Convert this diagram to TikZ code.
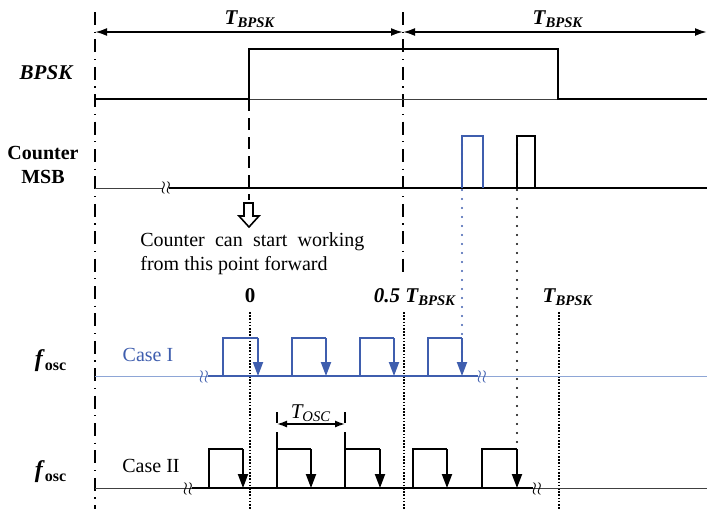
\documentclass[tikz,border=0pt]{standalone}
\usepackage{fontspec}
\setmainfont{Liberation Serif}
\usetikzlibrary{arrows.meta,positioning}
\definecolor{caseblue}{HTML}{3F5EAE}
\definecolor{caselight}{HTML}{8EA6D6}

\begin{document}
\begin{tikzpicture}[
  x=0.5pt, y=-0.5pt,
  font=\fontsize{10}{12}\selectfont,
  lbl/.style={font=\fontsize{10.5}{12}\selectfont\bfseries\itshape, inner sep=1pt},
  sigline/.style={line width=1pt, line join=miter},
  thinbase/.style={line width=0.5pt, draw=black!75},
  dashdot/.style={line width=1.4pt, dash pattern=on 6.5pt off 3.3pt on 0.6pt off 3.3pt},
  densedot/.style={line width=1.2pt, dash pattern=on 0.8pt off 0.8pt},
  sparsedot/.style={line width=1.2pt, line cap=round, dash pattern=on 0pt off 4.5pt},
  falledge/.style={sigline, -{Triangle[length=7pt,width=5pt]}},
  span/.style={line width=1pt, {Latex[length=6pt,width=4pt]}-{Latex[length=6pt,width=4pt]}},
  oscspan/.style={line width=0.7pt, {Latex[length=5pt,width=3.5pt]}-{Latex[length=5pt,width=3.5pt]}},
  wig/.style={inner sep=0pt, font=\fontsize{9}{9}\selectfont},
]
  \useasboundingbox (0,0) rectangle (707,509);

  % time marks
  \coordinate (t0) at (95,32);
  \coordinate (t1) at (403,32);
  \coordinate (t2) at (707,32);
  \draw[dashdot] (95,12) -- (95,509);
  \draw[dashdot] (403,12) -- (403,277);
  \draw[span] (t0) -- (t1);
  \draw[span] (t1) -- (t2);
  \node[lbl] (tb1) at (250,19) {T\textsubscript{BPSK}};
  \node[lbl] (tb2) at (558,19) {T\textsubscript{BPSK}};

  % BPSK
  \node[lbl] (bpsk) at (46,73) {BPSK};
  \draw[thinbase] (249,99) -- (558,99);
  \draw[sigline] (95,99) -- (249,99) -- (249,49) -- (558,49) -- (558,99) -- (707,99);
  \draw[line width=1.1pt, dash pattern=on 6pt off 3.5pt] (249,99) -- (249,200);

  % Counter MSB
  \node[font=\fontsize{10}{12}\selectfont\bfseries, align=center] (msb) at (43,165) {Counter\\MSB};
  \draw[thinbase] (95,188) -- (163,188);
  \draw[sigline] (169,188) -- (707,188);
  \node[wig] (sq0) at (166,188) {$\wr\wr$};
  \draw[sigline, caseblue] (462,188) -- (462,136) -- (483,136) -- (483,188);
  \draw[sigline] (517,188) -- (517,136) -- (535,136) -- (535,188);

  \draw[line width=0.8pt, fill=white] (244,203) -- (253,203) -- (253,216) -- (259,216)
    -- (249,227) -- (239,216) -- (244,216) -- cycle;
  \node[align=justify, text width=112pt, inner sep=0pt, anchor=north west] (note)
    at (140,232) {Counter can start working from this point forward};

  % reference instants
  \node[font=\fontsize{10.5}{12}\selectfont\bfseries] (zero) at (250,296) {0};
  \node[lbl] (half) at (415,297) {0.5 T\textsubscript{BPSK}};
  \node[lbl] (full) at (568,297) {T\textsubscript{BPSK}};
  \foreach \x in {250,404,559}
    \draw[densedot] (\x,312) -- (\x,509);
  \draw[sparsedot, caseblue] (462,136) -- (462,376);
  \draw[sparsedot] (517,136) -- (517,449);

  % Case I
  \node[font=\fontsize{12}{14}\selectfont] (f1) at (51,361) {\textbf{\textit{f}\textsubscript{osc}}};
  \node[text=caseblue] (c1) at (148,355) {Case I};
  \draw[thinbase, caselight] (95,376) -- (707,376);
  \draw[sigline, caseblue] (208,376) -- (478,376);
  \node[wig, text=caseblue] (sq1) at (204,377) {$\wr\wr$};
  \node[wig, text=caseblue] (sq2) at (482,377) {$\wr\wr$};
  \foreach \r/\f in {223/258, 292/326, 360/394, 428/462}{
    \draw[sigline, caseblue] (\r,376) -- (\r,338) -- (\f,338);
    \draw[falledge, caseblue] (\f,338) -- (\f,376);
  }

  % Case II
  \node[font=\fontsize{12}{14}\selectfont] (f2) at (51,472) {\textbf{\textit{f}\textsubscript{osc}}};
  \node (c2) at (151,466) {Case II};
  \draw[thinbase] (95,488) -- (707,488);
  \draw[sigline] (192,488) -- (533,488);
  \node[wig] (sq3) at (188,489) {$\wr\wr$};
  \node[wig] (sq4) at (537,489) {$\wr\wr$};
  \foreach \r/\f in {209/243, 277/311, 345/380, 413/447, 482/517}{
    \draw[sigline] (\r,488) -- (\r,449) -- (\f,449);
    \draw[falledge] (\f,449) -- (\f,488);
  }
  \draw[sigline] (277,449) -- (277,432);
  \draw[sigline] (345,449) -- (345,432);

  % T_osc
  \coordinate (o1) at (277,424);
  \coordinate (o2) at (345,424);
  \draw[sigline] (277,412) -- (277,423);
  \draw[sigline] (345,412) -- (345,423);
  \draw[oscspan] (o1) -- (o2);
  \node[font=\fontsize{10.5}{12}\selectfont\itshape, inner sep=1pt] (tosc) at (311,413) {T\textsubscript{OSC}};
\end{tikzpicture}
\end{document}
